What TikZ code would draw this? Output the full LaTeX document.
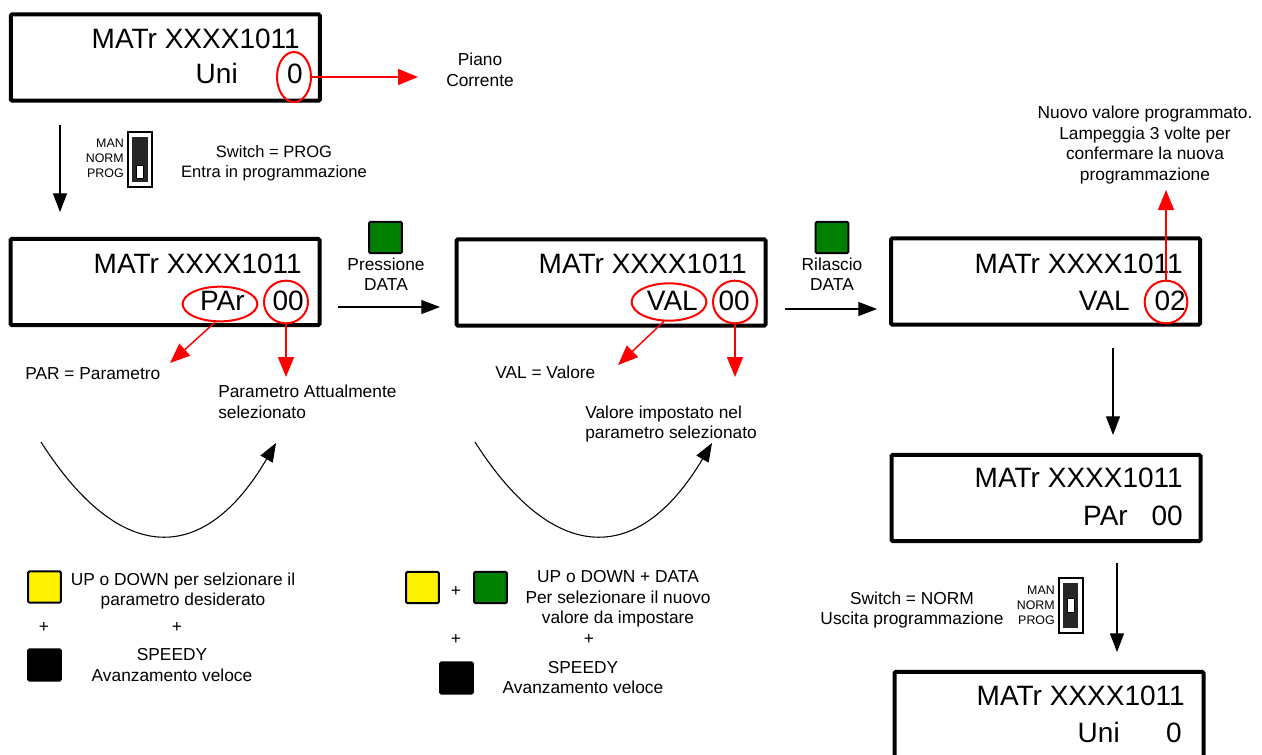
\documentclass[tikz,border=0pt]{standalone}
\usepackage{fontspec}
\setmainfont{Liberation Sans}
\usetikzlibrary{shapes.geometric,arrows.meta}
\definecolor{dgreen}{RGB}{0,128,0}

\begin{document}
\begin{tikzpicture}[x=0.75pt,y=-0.75pt,
        lcd/.style={draw,line width=3pt,rounded corners=1pt,minimum width=231.75pt,minimum height=64.8pt,inner sep=0pt},
        big/.style={font=\fontsize{21}{24}\selectfont,inner sep=0pt},
        txt/.style={font=\fontsize{13}{15.4}\selectfont,inner sep=0pt,align=center},
        swlab/.style={font=\fontsize{9.3}{11.3}\selectfont,inner sep=0pt,align=right,anchor=east},
        ring/.style={draw=red,line width=1.5pt,ellipse,inner sep=0pt},
        redarrow/.style={red,line width=1.1pt,-{Triangle[length=15pt,width=12pt]}},
        flow/.style={line width=0.9pt,-{Triangle[length=14pt,width=10.5pt]}},
        key/.style={draw,line width=1.5pt,rounded corners=1pt,minimum width=24.5pt,minimum height=23.5pt,inner sep=0pt}]
        \useasboundingbox (0,0) rectangle (1262,754);

        % display: stato normale
        \node[lcd] (d1) at (165.3,57.5) {};
        \node[big,anchor=base east] (d1a) at (300,48) {MATr XXXX1011};
        \node[big,anchor=base east] (d1l) at (238,83) {Uni};
        \node[big,anchor=base east] (d1v) at (303,83) {0};
        \node[ring,minimum width=25.5pt,minimum height=37.5pt] (r1) at (294,77) {};
        \coordinate (t1) at (418,77);
        \draw[redarrow] (r1.east) -- (t1);
        \node[txt] (piano) at (480,70) {Piano\\Corrente};

        % switch in PROG
        \coordinate (a1s) at (60,125);
        \coordinate (a1e) at (60,212);
        \draw[flow] (a1s) -- (a1e);
        \node[swlab] (sw1l) at (124,158) {MAN\\NORM\\PROG};
        \draw[line width=1pt,fill=white] (128,132) rectangle (152,187);
        \fill[black!85] (132,137) rectangle (148,182);
        \draw[line width=0.6pt,fill=white] (136,165) rectangle (143,178);
        \node[txt,font=\fontsize{12.4}{15.4}\selectfont] (prog) at (274,163) {Switch = PROG\\Entra in programmazione};

        % display: parametro
        \node[lcd] (d2) at (165,282) {};
        \node[big,anchor=base east] (d2a) at (302,273) {MATr XXXX1011};
        \node[big,anchor=base east] (d2l) at (245,310) {PAr};
        \node[big,anchor=base east] (d2v) at (304,310) {00};
        \node[ring,minimum width=56pt,minimum height=26pt] (r2a) at (220,304) {};
        \node[ring,minimum width=33pt,minimum height=32pt] (r2b) at (286,302) {};
        \coordinate (t2a) at (170,363);
        \coordinate (t2b) at (286,377);
        \draw[redarrow] (r2a.-105) -- (t2a);
        \draw[redarrow] (r2b.south) -- (t2b);
        \node[txt,anchor=base west] (par) at (25,379) {PAR = Parametro};
        \node[txt,align=left,anchor=west] (parsel) at (218,402) {Parametro Attualmente\\selezionato};

        % pressione DATA
        \node[key,fill=dgreen] (kp) at (385.5,237.5) {};
        \node[txt] (press) at (386,274) {Pressione\\DATA};
        \coordinate (a2s) at (338,307);
        \coordinate (a2e) at (440,307);
        \draw[flow] (a2s) -- (a2e);

        % display: valore
        \node[lcd] (d3) at (611,282.5) {};
        \node[big,anchor=base east] (d3a) at (747,273) {MATr XXXX1011};
        \node[big,anchor=base east] (d3l) at (698,310) {VAL};
        \node[big,anchor=base east] (d3v) at (750,310) {00};
        \node[ring,minimum width=56pt,minimum height=28pt] (r3a) at (669,302) {};
        \node[ring,minimum width=33pt,minimum height=32pt] (r3b) at (735,302) {};
        \coordinate (t3a) at (618,365);
        \coordinate (t3b) at (735,377);
        \draw[redarrow] (r3a.-105) -- (t3a);
        \draw[redarrow] (r3b.south) -- (t3b);
        \node[txt,anchor=base west] (val) at (495,378) {VAL = Valore};
        \node[txt,align=left,anchor=west] (valsel) at (585,424) {Valore impostato nel\\parametro selezionato};

        % rilascio DATA
        \node[key,fill=dgreen] (kr) at (832,237.5) {};
        \node[txt] (rilas) at (832,274) {Rilascio\\DATA};
        \coordinate (a3s) at (785,309);
        \coordinate (a3e) at (877,309);
        \draw[flow] (a3s) -- (a3e);

        % display: nuovo valore
        \node[lcd] (d4) at (1045.5,281.5) {};
        \node[big,anchor=base east] (d4a) at (1183,273) {MATr XXXX1011};
        \node[big,anchor=base east] (d4l) at (1130,310) {VAL};
        \node[big,anchor=base east] (d4v) at (1186,310) {02};
        \node[ring,minimum width=32pt,minimum height=32pt] (r4) at (1166,302) {};
        \coordinate (t4) at (1166,190);
        \draw[redarrow] (r4.north) -- (t4);
        \node[txt] (nuovo) at (1145,145) {Nuovo valore programmato.\\Lampeggia 3 volte per\\confermare la nuova\\programmazione};

        \coordinate (a4s) at (1113,348);
        \coordinate (a4e) at (1113,435);
        \draw[flow] (a4s) -- (a4e);

        \node[lcd] (d5) at (1046,498) {};
        \node[big,anchor=base east] (d5a) at (1183,487) {MATr XXXX1011};
        \node[big,anchor=base east] (d5l) at (1128,525) {PAr};
        \node[big,anchor=base east] (d5v) at (1183,525) {00};

        % switch in NORM
        \node[txt] (norm) at (912,610) {Switch = NORM\\Uscita programmazione};
        \node[swlab] (sw2l) at (1055,605) {MAN\\NORM\\PROG};
        \draw[line width=1pt,fill=white] (1059,578) rectangle (1083,633);
        \fill[black!85] (1063,583) rectangle (1078,628);
        \draw[line width=0.6pt,fill=white] (1067,598) rectangle (1074,612);
        \coordinate (a5s) at (1117,563);
        \coordinate (a5e) at (1117,652);
        \draw[flow] (a5s) -- (a5e);

        \node[lcd] (d6) at (1049,715) {};
        \node[big,anchor=base east] (d6a) at (1185,705) {MATr XXXX1011};
        \node[big,anchor=base east] (d6l) at (1120,742) {Uni};
        \node[big,anchor=base east] (d6v) at (1182,742) {0};

        % scorrimento
        \coordinate (c1s) at (41,442);
        \coordinate (c1e) at (276,443);
        \draw[flow,line width=0.8pt] (c1s) .. controls (120,566) and (204,566) .. (c1e);
        \coordinate (c2s) at (475,442);
        \coordinate (c2e) at (712,443);
        \draw[flow,line width=0.8pt] (c2s) .. controls (554,566) and (639,566) .. (c2e);

        % legenda tasti
        \node[key,fill=yellow] (up1) at (44.5,587) {};
        \node[txt] (up1t) at (183,591) {UP o DOWN per selzionare il\\parametro desiderato};
        \node[txt] (plus1) at (44,627) {+};
        \node[txt] (plus2) at (177,627) {+};
        \node[key,fill=black] (sp1) at (44.5,665) {};
        \node[txt] (sp1t) at (172,665) {SPEEDY\\Avanzamento veloce};

        \node[key,fill=yellow] (up2) at (422.5,587.5) {};
        \node[txt] (plus3) at (456,591) {+};
        \node[key,fill=dgreen] (dt2) at (490.5,587.5) {};
        \node[txt] (up2t) at (618,599) {UP o DOWN + DATA\\Per selezionare il nuovo\\valore da impostare};
        \node[txt] (plus4) at (456,639) {+};
        \node[txt] (plus5) at (589,639) {+};
        \node[key,fill=black] (sp2) at (456.5,678) {};
        \node[txt] (sp2t) at (583,677.5) {SPEEDY\\Avanzamento veloce};
    \end{tikzpicture}
\end{document}
